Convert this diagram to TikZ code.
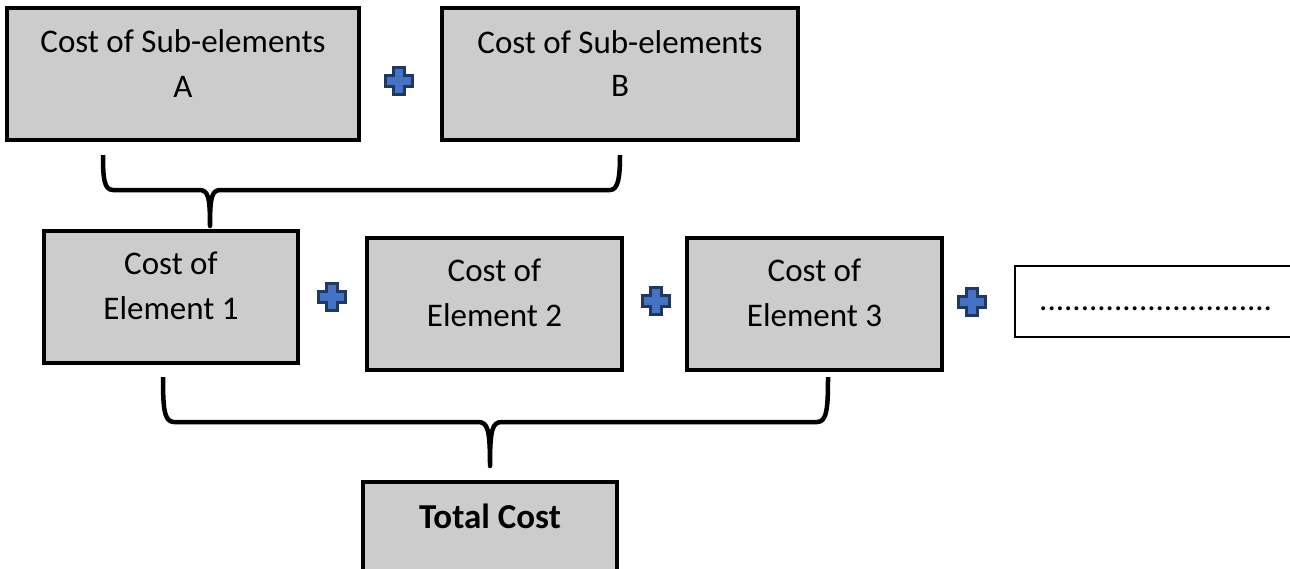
\documentclass[tikz,border=0pt]{standalone}
\usepackage{fontspec}
\setmainfont{Carlito}
\definecolor{boxgray}{RGB}{204,204,204}
\definecolor{plusfill}{RGB}{68,114,196}
\definecolor{plusedge}{RGB}{32,56,100}
\tikzset{
  costbox/.style={draw=black, line width=3.2pt, fill=boxgray, inner sep=0pt},
  openbox/.style={draw=black, line width=1.4pt, fill=white, inner sep=0pt},
  txt/.style={anchor=base, inner sep=0pt, font=\fontsize{33}{40}\selectfont},
  boldtxt/.style={anchor=base, inner sep=0pt, font=\fontsize{35}{42}\selectfont\bfseries},
  bracket/.style={draw=black, line width=4.5pt, line join=round},
  plussign/.pic={
    \filldraw[fill=plusfill, draw=plusedge, line width=2.6pt, line join=miter]
      (-5.5,-13.5) -- (5.5,-13.5) -- (5.5,-5.5) -- (13.5,-5.5) -- (13.5,5.5)
      -- (5.5,5.5) -- (5.5,13.5) -- (-5.5,13.5) -- (-5.5,5.5) -- (-13.5,5.5)
      -- (-13.5,-5.5) -- (-5.5,-5.5) -- cycle;
  }
}
\begin{document}
\begin{tikzpicture}[x=1pt, y=-1pt]
\clip (0,0) rectangle (1290,568);
\fill[white] (0,0) rectangle (1290,568);

% top row: sub-element costs
\node[costbox, minimum width=352pt, minimum height=132pt] (subA) at (183,74) {};
\node[txt] (subAt1) at (183,52) {Cost of Sub-elements};
\node[txt] (subAt2) at (183,97) {A};
\node[costbox, minimum width=356pt, minimum height=132pt] (subB) at (620,74) {};
\node[txt] (subBt1) at (620,53) {Cost of Sub-elements};
\node[txt] (subBt2) at (620,96) {B};
\pic at (399,81) {plussign};

% bracket gathering A and B into element 1
\coordinate (b1l) at (103,155);
\coordinate (b1tip) at (210,226);
\coordinate (b1r) at (620,155);
\draw[bracket] (b1l) .. controls (103,178) and (104,190) .. (113,190)
  -- (199,190) .. controls (208,190) and (210,196) .. (b1tip)
  .. controls (210,196) and (212,190) .. (221,190)
  -- (610,190) .. controls (618,190) and (620,178) .. (b1r);

% middle row: element costs
\node[costbox, minimum width=254pt, minimum height=132pt] (el1) at (171,297) {};
\node[txt] (el1t1) at (171,274) {Cost of};
\node[txt] (el1t2) at (171,319) {Element 1};
\node[costbox, minimum width=255pt, minimum height=132pt] (el2) at (494.5,304) {};
\node[txt] (el2t1) at (494.5,281) {Cost of};
\node[txt] (el2t2) at (494.5,326) {Element 2};
\node[costbox, minimum width=255pt, minimum height=132pt] (el3) at (814.5,304) {};
\node[txt] (el3t1) at (814.5,281) {Cost of};
\node[txt] (el3t2) at (814.5,326) {Element 3};
\draw[openbox] (1015,266) rectangle (1300,337);
\node[txt, anchor=base west] (more) at (1039,310) {............................};
\pic at (332,297) {plussign};
\pic at (656,301) {plussign};
\pic at (972,302) {plussign};

% bracket gathering the elements into the total
\coordinate (b2l) at (163,377);
\coordinate (b2tip) at (490,466);
\coordinate (b2r) at (828,377);
\draw[bracket] (b2l) .. controls (163,408) and (164,422) .. (174,422)
  -- (478,422) .. controls (488,422) and (490,430) .. (b2tip)
  .. controls (490,430) and (492,422) .. (502,422)
  -- (817,422) .. controls (827,422) and (828,408) .. (b2r);

% bottom: total
\node[costbox, minimum width=254pt, minimum height=132pt] (total) at (490,548) {};
\node[boldtxt] (totalt) at (490,528) {Total Cost};
\end{tikzpicture}
\end{document}
